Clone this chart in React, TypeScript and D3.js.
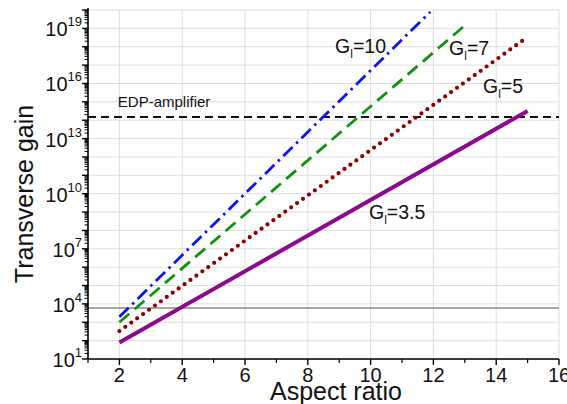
import React from "react";
import * as d3 from "d3";

const W = 567;
const H = 404;

// Series: aspect ratio endpoints and transverse gain values (straight lines on log scale)
const g35X = [2, 15];
const g35Y = [80, 3.2e14];
const g5X = [2, 15];
const g5Y = [330, 3.4e18];
const g7X = [2, 13.05];
const g7Y = [1000, 1.7e19];
const g10X = [2, 11.9];
const g10Y = [2000, 7.8e19];

const edpLevel = 1.5e14;
const grayLevel = 6000;

const xTicks = [2, 4, 6, 8, 10, 12, 14, 16];
const xMinor = [1, 3, 5, 7, 9, 11, 13, 15];
const yLabelExps = [1, 4, 7, 10, 13, 16, 19];

const labels = [
  { sub: "l", text: "=10", x: 8.87, y: 4.6e17 },
  { sub: "l", text: "=7", x: 12.5, y: 3.5e17 },
  { sub: "l", text: "=5", x: 13.58, y: 3e15 },
  { sub: "l", text: "=3.5", x: 9.95, y: 4.2e8 },
];

const FONT = "'Liberation Sans', Arial, sans-serif";

export default function App() {
  const left = 88;
  const right = 559;
  const top = 10;
  const bottom = 359;
  const x = d3.scaleLinear().domain([1, 16]).range([left, right]);
  const y = d3.scaleLog().domain([10, 1e20]).range([bottom, top]);

  const line = d3
    .line<[number, number]>()
    .x((d) => x(d[0]))
    .y((d) => y(d[1]));

  const mk = (xs: number[], ys: number[]) =>
    line(xs.map((v, i) => [v, ys[i]] as [number, number])) || "";

  const decades = d3.range(1, 21);
  const minor: number[] = [];
  for (let e = 1; e < 20; e++) {
    for (let m = 2; m <= 9; m++) minor.push(m * Math.pow(10, e));
  }

  return (
    <svg width={W} height={H} style={{ position: "absolute", left: 0, top: 0, background: "#fff" }} fontFamily={FONT}>
      <rect x={0} y={0} width={W} height={H} fill="#fff" />
      {/* grid */}
      {decades.map((e) => (
        <line key={"hg" + e} x1={left} x2={right} y1={y(Math.pow(10, e))} y2={y(Math.pow(10, e))} stroke="#dedede" strokeWidth={1} />
      ))}
      {xTicks.map((t) => (
        <line key={"vg" + t} x1={x(t)} x2={x(t)} y1={top} y2={bottom} stroke="#dedede" strokeWidth={1} />
      ))}
      {/* reference lines */}
      <line x1={left} x2={right} y1={y(grayLevel)} y2={y(grayLevel)} stroke="#8a8a8a" strokeWidth={1.6} />
      <line x1={left} x2={right} y1={y(edpLevel)} y2={y(edpLevel)} stroke="#111" strokeWidth={2} strokeDasharray="8 5" />
      <text x={x(1.95)} y={y(edpLevel) - 10} fontSize={15} fill="#111">EDP-amplifier</text>

      {/* series */}
      <path d={mk(g35X, g35Y)} fill="none" stroke="#8b0a8b" strokeWidth={4} />
      <path d={mk(g5X, g5Y)} fill="none" stroke="#8b0000" strokeWidth={4.2} strokeLinecap="round" strokeDasharray="0 7.3" />
      <path d={mk(g7X, g7Y)} fill="none" stroke="#119111" strokeWidth={2.8} strokeDasharray="13 7" />
      <path d={mk(g10X, g10Y)} fill="none" stroke="#0a14f0" strokeWidth={2.8} strokeDasharray="13 5 2.5 5" />

      {/* series labels */}
      {labels.map((l, i) => (
        <text key={"l" + i} x={x(l.x)} y={y(l.y)} fontSize={19.5} fill="#111">
          G<tspan fontSize={12} dy={5}>{l.sub}</tspan>
          <tspan dy={-5}>{l.text}</tspan>
        </text>
      ))}

      {/* axes */}
      <line x1={left} x2={left} y1={top - 2} y2={bottom} stroke="#000" strokeWidth={1.6} />
      <line x1={left} x2={right} y1={bottom} y2={bottom} stroke="#000" strokeWidth={1.6} />
      {decades.map((e) => (
        <line key={"ym" + e} x1={left - 6} x2={left} y1={y(Math.pow(10, e))} y2={y(Math.pow(10, e))} stroke="#000" strokeWidth={1.4} />
      ))}
      {minor.map((v, i) => (
        <line key={"yn" + i} x1={left - 3.5} x2={left} y1={y(v)} y2={y(v)} stroke="#000" strokeWidth={1} />
      ))}
      {xTicks.map((t) => (
        <line key={"xm" + t} x1={x(t)} x2={x(t)} y1={bottom} y2={bottom + 6} stroke="#000" strokeWidth={1.4} />
      ))}
      {xMinor.map((t) => (
        <line key={"xn" + t} x1={x(t)} x2={x(t)} y1={bottom} y2={bottom + 4} stroke="#000" strokeWidth={1.2} />
      ))}
      {xTicks.map((t) => (
        <text key={"xl" + t} x={x(t)} y={bottom + 23} fontSize={20} textAnchor="middle" fill="#111">{t}</text>
      ))}
      {yLabelExps.map((e) => (
        <text key={"yl" + e} x={left - 6} y={y(Math.pow(10, e)) + 8} fontSize={20} textAnchor="end" fill="#111">
          10<tspan fontSize={13} dy={-10}>{e}</tspan>
        </text>
      ))}
      <text x={336} y={400} fontSize={25} textAnchor="middle" fill="#111">Aspect ratio</text>
      <text transform={`translate(33,194) rotate(-90)`} fontSize={25} textAnchor="middle" fill="#111">Transverse gain</text>
    </svg>
  );
}
